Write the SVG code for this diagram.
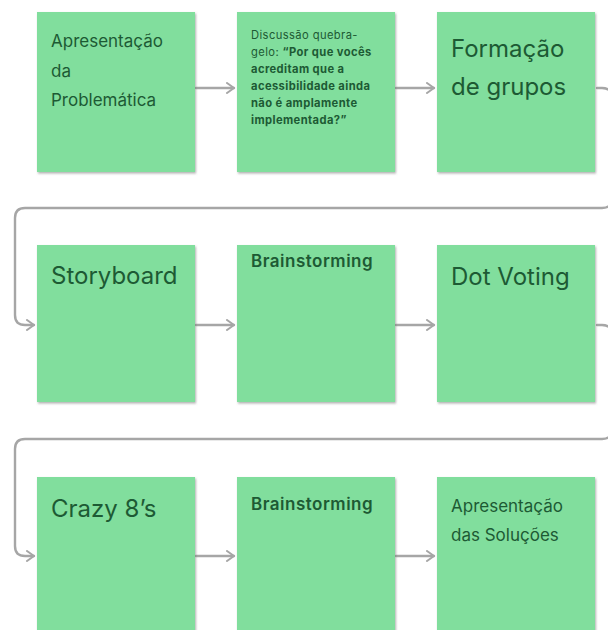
<svg xmlns="http://www.w3.org/2000/svg" width="608" height="630" viewBox="0 0 608 630">
  <defs>
    <marker id="chev" viewBox="0 0 10 12" refX="9" refY="6" markerWidth="10" markerHeight="12" markerUnits="userSpaceOnUse" orient="auto">
      <path d="M2,1 L9,6 L2,11" fill="none" stroke="#a6a6a6" stroke-width="2" stroke-linecap="round" stroke-linejoin="round"/>
    </marker>
    <filter id="shade" x="-5%" y="-5%" width="115%" height="115%">
      <feDropShadow dx="1" dy="1.5" stdDeviation="0.8" flood-color="#6f6f6f" flood-opacity="0.55"/>
    </filter>
  </defs>
  <style>
    .note { fill: #81de9d; filter: url(#shade); }
    .t { fill: #1d5a34; font-family: Inter, "Noto Sans", sans-serif; }
    .big { font-size: 24px; }
    .mid { font-size: 17px; }
    .sb { font-size: 17px; font-weight: 600; letter-spacing: 0.5px; }
    .tiny { font-size: 11.2px; font-weight: 700; letter-spacing: 0.4px; }
    .tiny .r { font-weight: 400; }
    .link { fill: none; stroke: #a6a6a6; stroke-width: 2.4; stroke-linecap: round; stroke-linejoin: round; }
  </style>
  <rect width="608" height="630" fill="#ffffff"/>

  <!-- connectors -->
  <g id="connectors">
    <path class="link" d="M196,88 H234" marker-end="url(#chev)"/>
    <path class="link" d="M396,88 H434" marker-end="url(#chev)"/>
    <path class="link" d="M597,88 H602 Q612,88 612,98 V198 Q612,208 602,208 H25 Q15,208 15,218 V315 Q15,325 25,325 H34" marker-end="url(#chev)"/>
    <path class="link" d="M196,325 H234" marker-end="url(#chev)"/>
    <path class="link" d="M396,325 H434" marker-end="url(#chev)"/>
    <path class="link" d="M597,325 H602 Q612,325 612,335 V429 Q612,439 602,439 H25 Q15,439 15,449 V546 Q15,556 25,556 H34" marker-end="url(#chev)"/>
    <path class="link" d="M196,556 H234" marker-end="url(#chev)"/>
    <path class="link" d="M396,556 H434" marker-end="url(#chev)"/>
  </g>

  <!-- row 1 -->
  <g id="n-apresentacao-problematica">
    <rect class="note" x="37" y="12" width="158" height="160"/>
    <text class="t mid" x="51" y="47">Apresentação</text>
    <text class="t mid" x="51" y="77">da</text>
    <text class="t mid" x="51" y="106">Problemática</text>
  </g>
  <g id="n-discussao">
    <rect class="note" x="237" y="12" width="158" height="160"/>
    <text class="t tiny" x="251" y="39"><tspan class="r">Discussão quebra-</tspan></text>
    <text class="t tiny" x="251" y="56"><tspan class="r">gelo: </tspan>“Por que vocês</text>
    <text class="t tiny" x="251" y="73">acreditam que a</text>
    <text class="t tiny" x="251" y="90">acessibilidade ainda</text>
    <text class="t tiny" x="251" y="107">não é amplamente</text>
    <text class="t tiny" x="251" y="124">implementada?”</text>
  </g>
  <g id="n-formacao-grupos">
    <rect class="note" x="437" y="12" width="158" height="160"/>
    <text class="t big" x="451" y="57">Formação</text>
    <text class="t big" x="451" y="95">de grupos</text>
  </g>

  <!-- row 2 -->
  <g id="n-storyboard">
    <rect class="note" x="37" y="245" width="158" height="157"/>
    <text class="t big" x="51" y="284">Storyboard</text>
  </g>
  <g id="n-brainstorming-1">
    <rect class="note" x="237" y="245" width="158" height="157"/>
    <text class="t sb" x="251" y="267">Brainstorming</text>
  </g>
  <g id="n-dot-voting">
    <rect class="note" x="437" y="245" width="158" height="157"/>
    <text class="t big" x="451" y="285">Dot Voting</text>
  </g>

  <!-- row 3 -->
  <g id="n-crazy-8s">
    <rect class="note" x="37" y="477" width="158" height="170"/>
    <text class="t big" x="51" y="517">Crazy 8’s</text>
  </g>
  <g id="n-brainstorming-2">
    <rect class="note" x="237" y="477" width="158" height="170"/>
    <text class="t sb" x="251" y="510">Brainstorming</text>
  </g>
  <g id="n-apresentacao-solucoes">
    <rect class="note" x="437" y="477" width="158" height="170"/>
    <text class="t mid" x="451" y="512">Apresentação</text>
    <text class="t mid" x="451" y="541">das Soluções</text>
  </g>
</svg>
